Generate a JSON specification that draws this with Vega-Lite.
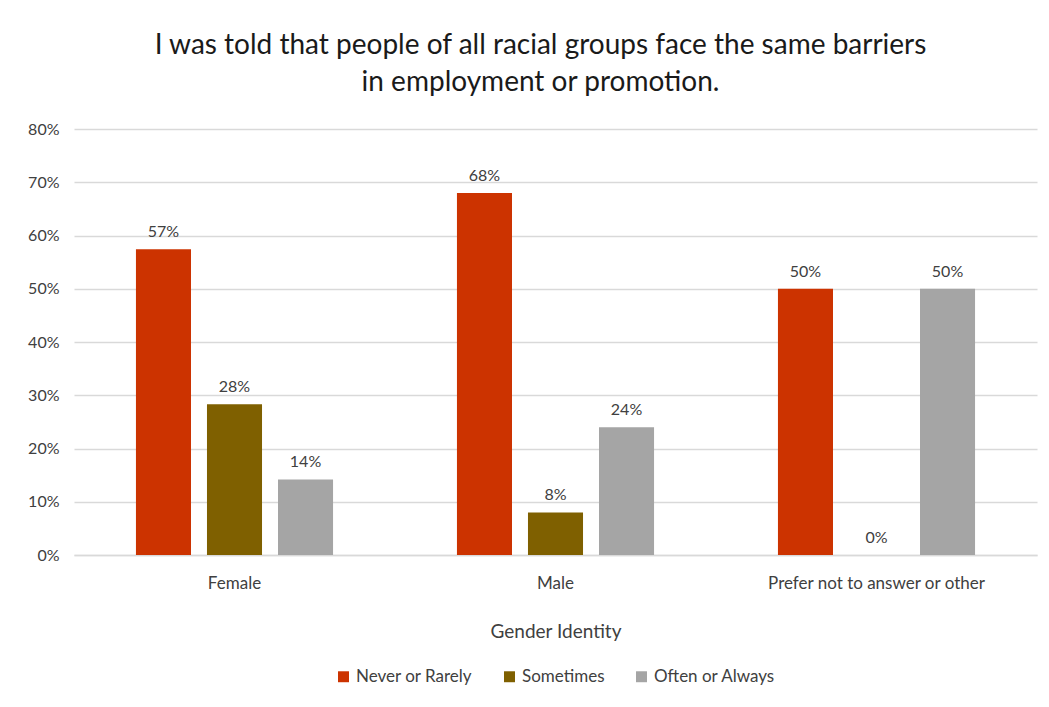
{
  "$schema": "https://vega.github.io/schema/vega-lite/v6.json",
  "width": 963,
  "height": 426,
  "padding": {"left": 27, "top": 32, "right": 14, "bottom": 10},
  "background": "white",
  "title": {
    "text": ["I was told that people of all racial groups face the same barriers", "in employment or promotion."],
    "font": "Lato",
    "fontSize": 28,
    "fontWeight": "normal",
    "color": "#1a1a1a",
    "lineHeight": 37,
    "anchor": "middle",
    "dx": -15,
    "offset": 24
  },
  "data": {
    "values": [
      {"gender": "Female", "response": "Never or Rarely", "value": 0.574},
      {"gender": "Female", "response": "Sometimes", "value": 0.283},
      {"gender": "Female", "response": "Often or Always", "value": 0.142},
      {"gender": "Male", "response": "Never or Rarely", "value": 0.68},
      {"gender": "Male", "response": "Sometimes", "value": 0.08},
      {"gender": "Male", "response": "Often or Always", "value": 0.24},
      {"gender": "Prefer not to answer or other", "response": "Never or Rarely", "value": 0.5},
      {"gender": "Prefer not to answer or other", "response": "Sometimes", "value": 0.0},
      {"gender": "Prefer not to answer or other", "response": "Often or Always", "value": 0.5}
    ]
  },
  "encoding": {
    "x": {
      "field": "gender",
      "type": "nominal",
      "sort": null,
      "title": "Gender Identity",
      "scale": {"paddingInner": 0.386, "paddingOuter": 0.193},
      "axis": {
        "labelAngle": 0,
        "labelFont": "Lato",
        "labelFontSize": 17,
        "labelColor": "#404040",
        "labelPadding": 20,
        "labelLimit": 500,
        "titleFont": "Lato",
        "titleFontSize": 19,
        "titleFontWeight": "normal",
        "titleColor": "#404040",
        "titlePadding": 31,
        "ticks": false,
        "domainColor": "#d9d9d9",
        "domainWidth": 1.5,
        "grid": false
      }
    },
    "xOffset": {
      "field": "response",
      "type": "nominal",
      "sort": ["Never or Rarely", "Sometimes", "Often or Always"],
      "scale": {"paddingInner": 0.225, "paddingOuter": 0}
    },
    "y": {
      "field": "value",
      "type": "quantitative",
      "title": null,
      "scale": {"domain": [0, 0.8], "nice": false},
      "axis": {
        "format": ".0%",
        "values": [0, 0.1, 0.2, 0.3, 0.4, 0.5, 0.6, 0.7, 0.8],
        "labelFont": "Lato",
        "labelFontSize": 16,
        "labelColor": "#404040",
        "labelPadding": 15,
        "labelOverlap": false,
        "ticks": false,
        "domain": false,
        "gridColor": "#d9d9d9",
        "gridWidth": 1.5
      }
    }
  },
  "layer": [
    {
      "mark": {"type": "bar"},
      "encoding": {
        "color": {
          "field": "response",
          "type": "nominal",
          "sort": ["Never or Rarely", "Sometimes", "Often or Always"],
          "scale": {
            "domain": ["Never or Rarely", "Sometimes", "Often or Always"],
            "range": ["#cc3300", "#7f6000", "#a5a5a5"]
          },
          "legend": {
            "title": null,
            "orient": "bottom",
            "direction": "horizontal",
            "symbolType": "square",
            "symbolSize": 120,
            "symbolStrokeWidth": 0,
            "labelFont": "Lato",
            "labelFontSize": 17,
            "labelColor": "#404040",
            "columnPadding": 28,
            "offset": 27
          }
        }
      }
    },
    {
      "mark": {"type": "text", "baseline": "bottom", "dy": -9, "font": "Lato", "fontSize": 16, "color": "#404040"},
      "encoding": {
        "text": {"field": "value", "type": "quantitative", "format": ".0%"}
      }
    }
  ],
  "config": {
    "view": {"stroke": null},
    "legend": {"layout": {"bottom": {"anchor": "middle"}}}
  }
}
